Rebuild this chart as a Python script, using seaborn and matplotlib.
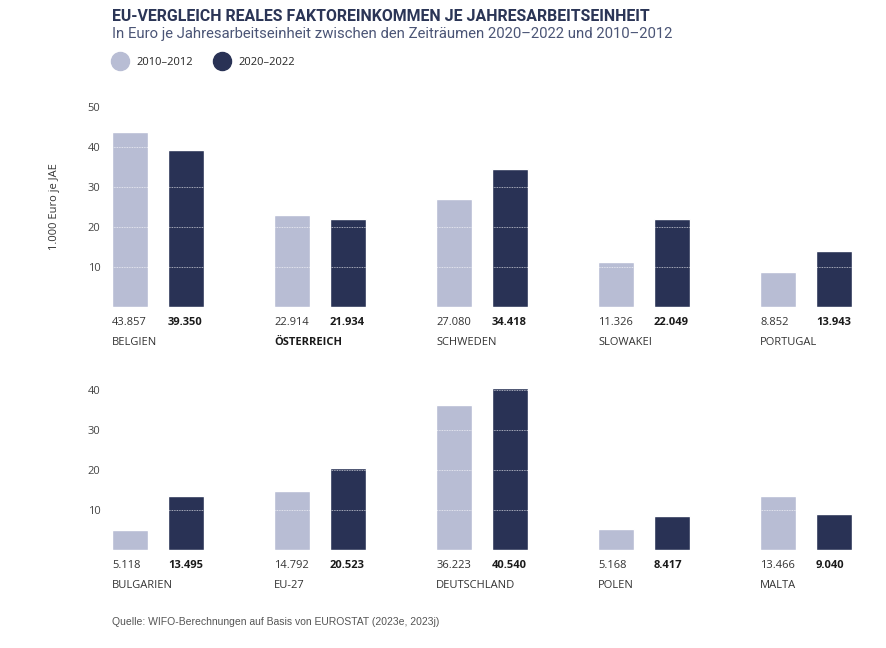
import pandas as pd
import seaborn as sns
import matplotlib.pyplot as plt
from matplotlib.lines import Line2D

# data (1.000 Euro je JAE)
periods = ["2010–2012", "2020–2022"]
countries_top = ["BELGIEN", "ÖSTERREICH", "SCHWEDEN", "SLOWAKEI", "PORTUGAL"]
v2010_top = [43.857, 22.914, 27.080, 11.326, 8.852]
v2020_top = [39.350, 21.934, 34.418, 22.049, 13.943]
countries_bottom = ["BULGARIEN", "EU-27", "DEUTSCHLAND", "POLEN", "MALTA"]
v2010_bottom = [5.118, 14.792, 36.223, 5.168, 13.466]
v2020_bottom = [13.495, 20.523, 40.540, 8.417, 9.040]
bold_names = ["ÖSTERREICH"]

light = "#b8bdd4"
dark = "#293255"
palette = {periods[0]: light, periods[1]: dark}

sns.set_theme(style="white")
plt.rcParams["font.family"] = ["Open Sans", "DejaVu Sans"]

fig = plt.figure(figsize=(8.86, 6.48), dpi=100)


def make_df(names, a, b):
    return pd.DataFrame({
        "land": names * 2,
        "periode": [periods[0]] * len(names) + [periods[1]] * len(names),
        "wert": list(a) + list(b),
    })


def draw_row(ax, names, a, b, ymax, yticks):
    df = make_df(names, a, b)
    sns.barplot(data=df, x="land", y="wert", hue="periode", order=names,
                hue_order=periods, palette=palette, width=0.69, gap=0.356,
                saturation=1, legend=False, ax=ax, zorder=1)
    ax.set_xlim(-0.33, 4.33)
    ax.set_ylim(0, ymax)
    ax.set_yticks(yticks)
    ax.set_xticks([])
    ax.set_xlabel("")
    ax.set_ylabel("")
    ax.tick_params(axis="y", length=0, pad=3, labelsize=8, labelcolor="#444444")
    for s in ax.spines.values():
        s.set_visible(False)
    # white dotted grid, only visible on top of the bars
    for t in yticks:
        ax.axhline(t, color="white", linestyle=(0, (1, 1)), linewidth=0.6,
                   alpha=0.8, zorder=3)
    for ci, cont in enumerate(ax.containers):
        for bar, val, name in zip(cont, [a, b][ci], names):
            ax.annotate(f"{val:.3f}", xy=(bar.get_x(), 0), xytext=(0, -11),
                        textcoords="offset points", ha="left", va="center",
                        fontsize=8, color="#1a1a1a" if ci else "#333333",
                        fontweight="bold" if ci else "normal")
            if ci == 0:
                ax.annotate(name, xy=(bar.get_x(), 0), xytext=(0, -25.5),
                            textcoords="offset points", ha="left", va="center",
                            fontsize=8, color="#1a1a1a" if name in bold_names else "#333333",
                            fontweight="bold" if name in bold_names else "normal")


ax1 = fig.add_axes([0.118, 0.5262, 0.852, 0.3086])
draw_row(ax1, countries_top, v2010_top, v2020_top, 50, [10, 20, 30, 40, 50])
ax2 = fig.add_axes([0.118, 0.1512, 0.852, 0.2593])
draw_row(ax2, countries_bottom, v2010_bottom, v2020_bottom, 42, [10, 20, 30, 40])

fig.text(0.062, 0.681, "1.000 Euro je JAE", rotation=90, ha="center", va="center",
         fontsize=8, color="#333333")

fig.text(0.1264, 0.974, "EU-VERGLEICH REALES FAKTOREINKOMMEN JE JAHRESARBEITSEINHEIT",
         ha="left", va="center", fontsize=11.4, fontweight="bold", color="#2b3556",
         family=["Roboto", "DejaVu Sans"])
fig.text(0.1264, 0.9475,
         "In Euro je Jahresarbeitseinheit zwischen den Zeiträumen 2020–2022 und 2010–2012",
         ha="left", va="center", fontsize=10.7, color="#4b5576",
         family=["Roboto", "DejaVu Sans"])

handles = [Line2D([], [], marker="o", linestyle="", markersize=13,
                  markerfacecolor=palette[p], markeredgecolor=palette[p]) for p in periods]
fig.legend(handles, periods, loc="center left", bbox_to_anchor=(0.128, 0.903),
           ncol=2, frameon=False, fontsize=8, handletextpad=1.0, columnspacing=2.0,
           borderaxespad=0, borderpad=0, handlelength=1.1)

fig.text(0.1264, 0.040, "Quelle: WIFO-Berechnungen auf Basis von EUROSTAT (2023e, 2023j)",
         ha="left", va="center", fontsize=7.5, color="#555555",
         family=["Liberation Sans", "DejaVu Sans"])

fig.savefig("out.png", dpi=100, facecolor="white")
